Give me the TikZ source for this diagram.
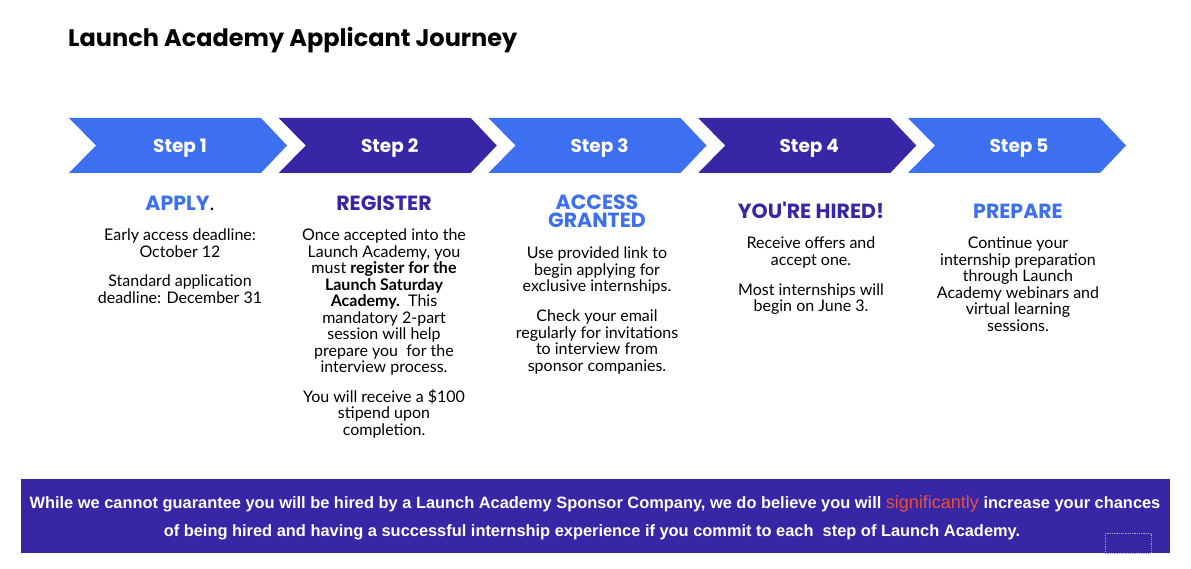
\documentclass[tikz,border=0pt]{standalone}
\usepackage{fontspec}
\setmainfont{Lato}
\newfontfamily\popfont{Poppins}
\newfontfamily\arialfont{Liberation Sans}
\definecolor{lablue}{RGB}{61,112,240}
\definecolor{lapurple}{RGB}{55,38,166}
\definecolor{lared}{RGB}{232,80,58}
\tikzset{
  steptxt/.style={text=white,font=\popfont\bfseries\fontsize{18.5}{20}\selectfont,anchor=base,inner sep=0},
  headb/.style={text=lablue,font=\popfont\bfseries\fontsize{20.5}{18.5}\selectfont,anchor=base,inner sep=0,align=center},
  headp/.style={text=lapurple,font=\popfont\bfseries\fontsize{20.5}{18.5}\selectfont,anchor=base,inner sep=0,align=center},
  bodytxt/.style={font=\fontsize{16}{16.5}\selectfont,anchor=north,inner sep=0,align=center},
  bantxt/.style={text=white,font=\arialfont\bfseries\fontsize{16.4}{18}\selectfont,anchor=base,inner sep=0}
}
\begin{document}
\begin{tikzpicture}[x=1pt,y=-1pt]
\useasboundingbox (0,0) rectangle (1191,569);
\node[anchor=base west,inner sep=0,font=\popfont\bfseries\fontsize{24}{28}\selectfont] (title) at (68,47) {Launch Academy Applicant Journey};
\foreach \i/\c/\n in {0/lablue/1,1/lapurple/2,2/lablue/3,3/lapurple/4,4/lablue/5} {
  \pgfmathsetmacro\xx{69+209.75*\i}
  \fill[\c] (\xx,118) -- ++(192,0) -- ++(26,27.5) -- ++(-26,27.5) -- ++(-192,0) -- ++(27,-27.5) -- cycle;
  \node[steptxt] (s\n) at (\xx+111,153) {Step \n};
}
% headings
\node[headb] (h1) at (180,211) {APPLY\textcolor{black}{\fontspec{Lato}\mdseries .}};
\node[headp] (h2) at (384,211) {REGISTER};
\node[headb] (h3) at (597,228) {ACCESS\\GRANTED};
\node[headp] (h4) at (811,219) {YOU'RE HIRED!};
\node[headb] (h5) at (1018,219) {PREPARE};
% bodies
\node[bodytxt] (b1) at (180,229) {Early access deadline:\\October 12\\[13pt]Standard application\\deadline: December 31};
\node[bodytxt] (b2) at (384,229) {Once accepted into the\\Launch Academy, you\\must \textbf{register for the}\\\textbf{Launch Saturday}\\\textbf{Academy.}\ \ This\\mandatory 2-part\\session will help\\prepare you\ \ for the\\interview process.\\[13pt]You will receive a \$100\\stipend upon\\completion.};
\node[bodytxt] (b3) at (597,247) {Use provided link to\\begin applying for\\exclusive internships.\\[13.5pt]Check your email\\regularly for invitations\\to interview from\\sponsor companies.};
\node[bodytxt] (b4) at (811,237) {Receive offers and\\accept one.\\[13.5pt]Most internships will\\begin on June 3.};
\node[bodytxt] (b5) at (1018,237) {Continue your\\internship preparation\\through Launch\\Academy webinars and\\virtual learning\\sessions.};
% banner
\fill[lapurple] (21,479) rectangle (1170,553);
\node[bantxt] (l1) at (595,508) {While we cannot guarantee you will be hired by a Launch Academy Sponsor Company, we do believe you will {\mdseries\color{lared}\fontsize{18}{18}\selectfont significantly} increase your chances};
\node[bantxt] (l2) at (592,536) {of being hired and having a successful internship experience if you commit to each\ \ step of Launch Academy.};
\draw[gray!70,densely dotted,line width=0.8pt] (1105,533) rectangle (1151,553);
\end{tikzpicture}
\end{document}
